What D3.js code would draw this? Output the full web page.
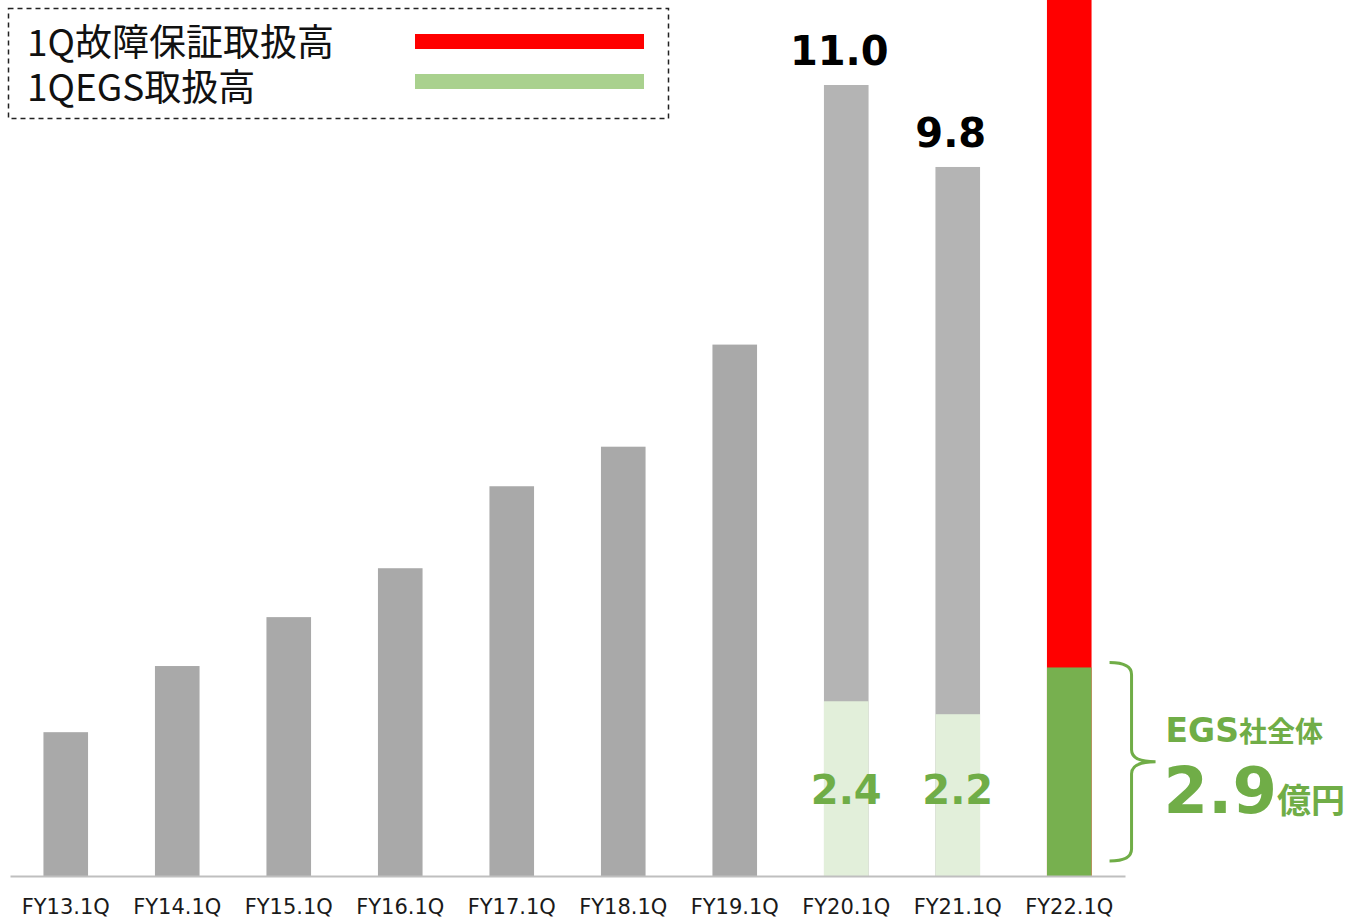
<!DOCTYPE html>
<html>
<head>
<meta charset="utf-8">
<script src="https://cdn.jsdelivr.net/npm/d3@7"></script>
<style>
  body { margin: 0; background: #fff; }
  svg { display: block; }
</style>
</head>
<body>
<svg id="chart"></svg>
<script>
(function chart() {
  // values (億円)
  const categories = ["FY13.1Q", "FY14.1Q", "FY15.1Q", "FY16.1Q", "FY17.1Q",
    "FY18.1Q", "FY19.1Q", "FY20.1Q", "FY21.1Q", "FY22.1Q"];
  const totals = [2.0, 2.92, 3.6, 4.28, 5.42, 5.97, 7.39, 11.0, 9.86, 13.0];
  const egsValues = [null, null, null, null, null, null, null, 2.43, 2.25, 2.9];
  const totalLabels = [null, null, null, null, null, null, null, "11.0", "9.8", null];
  const egsLabels = [null, null, null, null, null, null, null, "2.4", "2.2", "2.9"];
  const legendItems = ["1Q故障保証取扱高", "1QEGS取扱高"];

  const W = 1347, H = 921;
  const latin = "'DejaVu Sans', Verdana, sans-serif";
  const cjk = "'Noto Sans CJK JP', sans-serif";

  const svg = d3.select("#chart").attr("width", W).attr("height", H);

  const x = d3.scaleBand().domain(categories).range([10, 1125]).paddingInner(0.6).paddingOuter(0.3);
  const y = d3.scaleLinear().domain([0, 11]).range([876, 85]);

  const data = categories.map((c, i) => ({
    cat: c, total: totals[i], egs: egsValues[i], label: totalLabels[i], egsLabel: egsLabels[i], i,
  }));
  const last = categories.length - 1;

  // upper part of each bar (grey, or red for the latest quarter)
  svg.append("g")
    .selectAll("rect")
    .data(data)
    .join("rect")
    .attr("x", (d) => x(d.cat))
    .attr("width", x.bandwidth())
    .attr("y", (d) => y(d.total))
    .attr("height", (d) => y(0) - y(d.total))
    .attr("fill", (d) => d.i === last ? "#ff0000" : d.egs != null ? "#b4b4b4" : "#a9a9a9");

  // EGS part
  svg.append("g")
    .selectAll("rect")
    .data(data.filter((d) => d.egs != null))
    .join("rect")
    .attr("x", (d) => x(d.cat))
    .attr("width", x.bandwidth())
    .attr("y", (d) => y(d.egs))
    .attr("height", (d) => y(0) - y(d.egs))
    .attr("fill", (d) => d.i === last ? "#77b04f" : "#e2efda");

  // x axis
  const axis = svg.append("g")
    .attr("transform", `translate(0,${y(0)})`)
    .call(d3.axisBottom(x).tickSize(0).tickPadding(23).tickSizeOuter(0));
  axis.select(".domain").attr("stroke", "#bfbfbf").attr("stroke-width", 2);
  axis.selectAll("text")
    .style("font-family", latin)
    .style("font-size", "21px")
    .attr("fill", "#1a1a1a");

  // total labels (sit slightly left of the bar centre in the original)
  svg.append("g")
    .selectAll("text")
    .data(data.filter((d) => d.label))
    .join("text")
    .attr("x", (d) => x(d.cat) + x.bandwidth() / 2 - 7)
    .attr("y", (d) => y(d.total) - 20)
    .attr("text-anchor", "middle")
    .style("font-family", latin)
    .style("font-weight", "bold")
    .style("font-size", "40px")
    .attr("fill", "#000")
    .text((d) => d.label);

  // EGS labels inside light green bars
  svg.append("g")
    .selectAll("text")
    .data(data.filter((d) => d.egs != null && d.i !== last))
    .join("text")
    .attr("x", (d) => x(d.cat) + x.bandwidth() / 2)
    .attr("y", y(1.0))
    .attr("text-anchor", "middle")
    .style("font-family", latin)
    .style("font-weight", "bold")
    .style("font-size", "40px")
    .attr("fill", "#70ad47")
    .text((d) => d.egsLabel);

  // brace next to FY22 bar
  const lastD = data[last];
  const bx0 = x(lastD.cat) + x.bandwidth() + 18;
  const bx1 = bx0 + 22;
  const tip = bx1 + 24;
  const top = y(lastD.egs) - 5;
  const bot = y(0) - 15;
  const mid = (top + bot) / 2;
  const r = 12;
  svg.append("path")
    .attr("d", `M${bx0},${top} Q${bx1},${top} ${bx1},${top + r} L${bx1},${mid - r}
      Q${bx1},${mid} ${tip},${mid} Q${bx1},${mid} ${bx1},${mid + r}
      L${bx1},${bot - r} Q${bx1},${bot} ${bx0},${bot}`)
    .attr("fill", "none")
    .attr("stroke", "#70ad47")
    .attr("stroke-width", 3);

  const note1 = svg.append("text")
    .attr("x", tip + 10)
    .attr("y", mid - 20)
    .attr("fill", "#70ad47")
    .style("font-weight", "bold");
  note1.append("tspan").style("font-family", latin).style("font-size", "33px").text("EGS");
  note1.append("tspan").style("font-family", cjk).style("font-size", "28px").text("社全体");

  const note2 = svg.append("text")
    .attr("x", tip + 8)
    .attr("y", mid + 51)
    .attr("fill", "#70ad47")
    .style("font-weight", "bold");
  note2.append("tspan").style("font-family", latin).style("font-size", "64px").text(lastD.egsLabel);
  note2.append("tspan").style("font-family", cjk).style("font-size", "34px").text("億円");

  // legend
  const legend = svg.append("g");
  legend.append("rect")
    .attr("x", 8.5).attr("y", 8.5).attr("width", 660).attr("height", 110)
    .attr("fill", "none").attr("stroke", "#222").attr("stroke-width", 1.5)
    .attr("stroke-dasharray", "5,4");
  const legendColors = ["#ff0000", "#a9d18e"];
  legend.append("text")
    .style("font-family", cjk)
    .style("font-size", "37px")
    .attr("fill", "#111")
    .selectAll("tspan")
    .data(legendItems)
    .join("tspan")
    .attr("x", 27)
    .attr("y", (d, i) => 56 + i * 45)
    .text((d) => d);
  legend.selectAll("line")
    .data(legendItems)
    .join("line")
    .attr("x1", 415).attr("x2", 644)
    .attr("y1", (d, i) => 41.5 + i * 40)
    .attr("y2", (d, i) => 41.5 + i * 40)
    .attr("stroke", (d, i) => legendColors[i])
    .attr("stroke-width", 15);
})();
</script>
</body>
</html>
